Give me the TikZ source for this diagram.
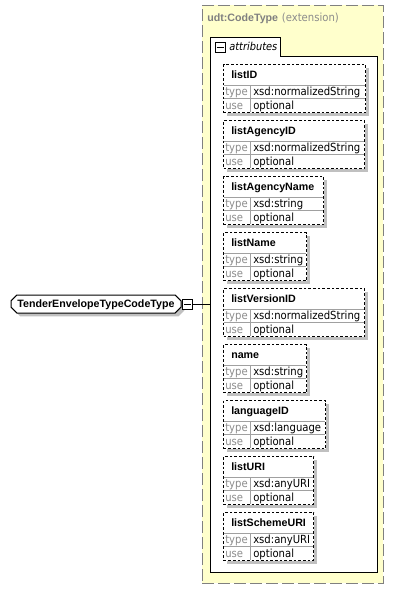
\documentclass[tikz,border=0pt]{standalone}
\usepackage{fontspec}
\setmainfont{Liberation Sans}
\newfontfamily\narrowfont{DejaVu Sans Condensed}
\usetikzlibrary{shapes.misc,shadows}
\definecolor{typeyellow}{HTML}{FFFFCC}
\definecolor{framegray}{HTML}{808080}
\definecolor{shadowgray}{HTML}{C0C0C0}
\definecolor{keygray}{HTML}{8C8C8C}
\definecolor{sepgray}{HTML}{A0A0A0}
\tikzset{
  thin line/.style={line width=0.75pt},
  typebox/.style={draw=framegray, fill=typeyellow, thin line, dash pattern=on 9pt off 3pt},
  attrsbox/.style={draw, fill=white, thin line},
  minusbox/.style={draw, fill=white, thin line, minimum size=7.5pt, inner sep=0},
  elembox/.style={chamfered rectangle, chamfered rectangle xsep=2.2pt, chamfered rectangle ysep=2.2pt,
    draw, fill=white, thin line, inner sep=0, minimum width=127.5pt, minimum height=13.5pt,
    text height=5.7pt, text depth=0pt, font=\fontsize{8}{9}\selectfont\bfseries,
    drop shadow={shadow xshift=2.5pt, shadow yshift=-2.5pt, fill=shadowgray, opacity=1}},
  attrframe/.style={draw, fill=white, thin line, dash pattern=on 2pt off 1.5pt, inner sep=0,
    drop shadow={shadow xshift=2.5pt, shadow yshift=-2.5pt, fill=shadowgray, opacity=1}},
  attrsep/.style={draw=sepgray, thin line},
  attrname/.style={anchor=base west, inner sep=0, font=\fontsize{8}{9}\selectfont\bfseries},
  attrkey/.style={anchor=base west, inner sep=0, text=keygray, font=\fontsize{8.4}{10}\selectfont\narrowfont},
  attrval/.style={anchor=base west, inner sep=0, font=\fontsize{8.4}{10}\selectfont\narrowfont},
}
\begin{document}
\begin{tikzpicture}[x=0.75pt, y=-0.75pt]
\useasboundingbox (0,0) rectangle (402,601);
\def\attrbox#1#2#3#4#5{
  \node[attrframe, anchor=north west, minimum width=(#5-223)*0.75pt, minimum height=36pt] (#1) at (223,#4) {};
  \draw[attrsep] (223.5,#4+21) -- (#5-0.5,#4+21) (223.5,#4+34) -- (#5-0.5,#4+34) (250,#4+21) -- (250,#4+47.5);
  \node[attrname] (#1-name) at (231,#4+14) {#2};
  \node[attrkey] (#1-typekey) at (225,#4+31) {type};
  \node[attrval] (#1-type) at (253,#4+31) {#3};
  \node[attrkey] (#1-usekey) at (225,#4+45.5) {use};
  \node[attrval] (#1-use) at (253,#4+45.5) {optional};
}
\node[typebox, minimum width=135.75pt, minimum height=433.5pt] (codetype) at (292.5,294) {};
\node[anchor=base west, inner sep=0] (codetype-title) at (207,21.8)
  {\textcolor{framegray}{\fontsize{8}{9}\selectfont\bfseries udt:CodeType} \textcolor{keygray}{\fontsize{8.4}{10}\selectfont\narrowfont(extension)}};
\node[attrsbox, minimum width=125.25pt, minimum height=387pt] (attrs) at (293.5,314) {};
\fill[white] (210,37) rectangle (280,57);
\draw[thin line] (210,57) -- (210,37) -- (280,37) -- (280,57);
\node[minusbox] (tabminus) at (220,47) {};
\draw[thin line] ([xshift=1.5pt]tabminus.west) -- ([xshift=-1.5pt]tabminus.east);
\node[attrval, font=\fontsize{8.2}{10}\selectfont\narrowfont\itshape] (attrtab) at (229,50.5) {attributes};
\attrbox{listid}{listID}{xsd:normalizedString}{64}{365}
\attrbox{agencyid}{listAgencyID}{xsd:normalizedString}{120}{364}
\attrbox{agencyname}{listAgencyName}{xsd:string}{176}{323}
\attrbox{listname}{listName}{xsd:string}{232}{306}
\attrbox{versionid}{listVersionID}{xsd:normalizedString}{288}{364}
\attrbox{name}{name}{xsd:string}{344}{306}
\attrbox{languageid}{languageID}{xsd:language}{400}{325}
\attrbox{listuri}{listURI}{xsd:anyURI}{456}{313}
\attrbox{schemeuri}{listSchemeURI}{xsd:anyURI}{512}{313}
\node[elembox] (elem) at (96,304) {TenderEnvelopeTypeCodeType};
\node[minusbox] (elemminus) at (187.5,304) {};
\draw[thin line] ([xshift=1.5pt]elemminus.west) -- ([xshift=-1.5pt]elemminus.east);
\draw[thin line] (elemminus.east) -- (elemminus.east -| attrs.west);
\end{tikzpicture}
\end{document}
